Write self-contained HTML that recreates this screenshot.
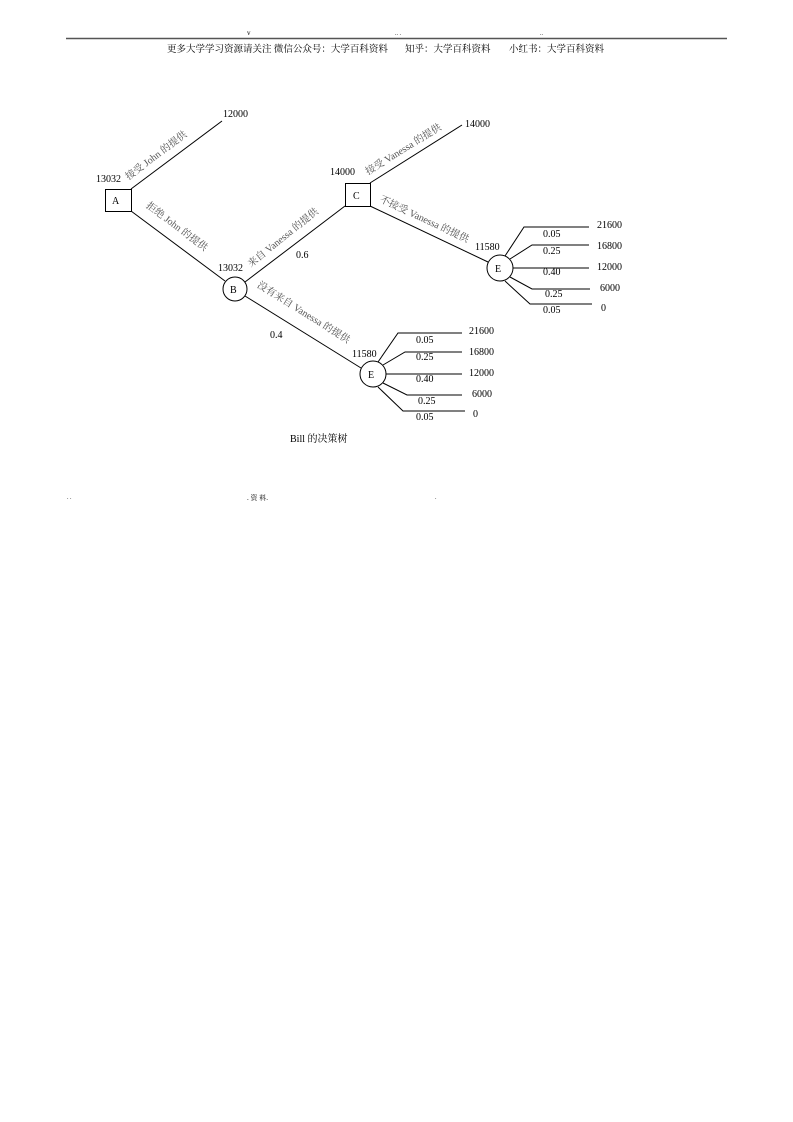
<!DOCTYPE html>
<html><head><meta charset="utf-8"><style>
html,body{margin:0;padding:0;background:#fff;}
svg{display:block;}
text{font-family:"Liberation Serif","Noto Serif CJK SC",serif;fill:#000;}
.l{font-size:10px;}
.r{font-size:10px;fill:#555;}
</style></head><body>
<svg width="793" height="1122" viewBox="0 0 793 1122" xmlns="http://www.w3.org/2000/svg">
<text x="247" y="35" font-size="7">v</text>
<text x="395" y="35" font-size="6" fill="#888">..  .</text>
<text x="540" y="35" font-size="6" fill="#888">..</text>
<line x1="66" y1="38.5" x2="727" y2="38.5" stroke="#555" stroke-width="1.5"/>
<text x="167" y="52" font-size="9.5" font-family="Liberation Serif, Noto Serif CJK SC, serif">更多大学学习资源请关注 微信公众号：大学百科资料</text>
<text x="405" y="52" font-size="9.5">知乎：大学百科资料</text>
<text x="509" y="52" font-size="9.5">小红书：大学百科资料</text>

<g stroke="#000" stroke-width="1" fill="none">
<rect x="105.5" y="189.5" width="26" height="22" fill="#fff"/>
<line x1="131" y1="189" x2="222" y2="121"/>
<line x1="131" y1="211" x2="225" y2="281"/>
<circle cx="235" cy="289" r="12"/>
<line x1="245" y1="282" x2="345" y2="206"/>
<rect x="345.5" y="183.5" width="25" height="23" fill="#fff"/>
<line x1="370" y1="183" x2="462" y2="125"/>
<line x1="370" y1="206" x2="488" y2="262"/>
<circle cx="500" cy="268" r="13"/>
<polyline points="505,256 524,227 589,227"/>
<polyline points="510,259 532,245 589,245"/>
<line x1="513" y1="268" x2="589" y2="268"/>
<polyline points="510,277 532,289 590,289"/>
<polyline points="505,281 530,304 592,304"/>
<line x1="245" y1="296" x2="361" y2="368"/>
<circle cx="373" cy="374" r="13"/>
<polyline points="378,362 398,333 462,333"/>
<polyline points="383,365 405,352 462,352"/>
<line x1="386" y1="374" x2="462" y2="374"/>
<polyline points="383,383 407,395 462,395"/>
<polyline points="378,387 403,411 465,411"/>
</g>
<text x="112" y="204" font-size="10">A</text>
<text x="230" y="293" font-size="10">B</text>
<text x="353" y="199" font-size="10">C</text>
<text x="495" y="272" font-size="10">E</text>
<text x="368" y="378" font-size="10">E</text>

<text class="l" x="96" y="182">13032</text>
<text class="l" x="223" y="117">12000</text>
<text class="l" x="218" y="271">13032</text>
<text class="l" x="330" y="175">14000</text>
<text class="l" x="465" y="127">14000</text>
<text class="l" x="296" y="258">0.6</text>
<text class="l" x="270" y="338">0.4</text>
<text class="l" x="475" y="250">11580</text>
<text class="l" x="352" y="357">11580</text>

<text class="l" x="597" y="228">21600</text>
<text class="l" x="597" y="249">16800</text>
<text class="l" x="597" y="270">12000</text>
<text class="l" x="600" y="291">6000</text>
<text class="l" x="601" y="311">0</text>
<text class="l" x="543" y="237">0.05</text>
<text class="l" x="543" y="254">0.25</text>
<text class="l" x="543" y="275">0.40</text>
<text class="l" x="545" y="297">0.25</text>
<text class="l" x="543" y="313">0.05</text>

<text class="l" x="469" y="334">21600</text>
<text class="l" x="469" y="355">16800</text>
<text class="l" x="469" y="376">12000</text>
<text class="l" x="472" y="397">6000</text>
<text class="l" x="473" y="417">0</text>
<text class="l" x="416" y="343">0.05</text>
<text class="l" x="416" y="360">0.25</text>
<text class="l" x="416" y="382">0.40</text>
<text class="l" x="418" y="404">0.25</text>
<text class="l" x="416" y="420">0.05</text>

<text class="r" text-anchor="middle" transform="translate(158,158) rotate(-37)">接受 John 的提供</text>
<text class="r" text-anchor="middle" transform="translate(175,229) rotate(37)">拒绝 John 的提供</text>
<text class="r" text-anchor="middle" transform="translate(285,240) rotate(-39)">来自 Vanessa 的提供</text>
<text class="r" text-anchor="middle" transform="translate(405,152) rotate(-32)">接受 Vanessa 的提供</text>
<text class="r" text-anchor="middle" transform="translate(423,222) rotate(25)">不接受 Vanessa 的提供</text>
<text class="r" text-anchor="middle" transform="translate(302,315) rotate(32)">没有来自 Vanessa 的提供</text>

<text x="290" y="442" font-size="10">Bill 的决策树</text>
<text x="67" y="499" font-size="6" fill="#999">. .</text>
<text x="247" y="500" font-size="7" fill="#888">. 资  料.</text>
<text x="435" y="499" font-size="6" fill="#999">.</text>
</svg>
</body></html>
